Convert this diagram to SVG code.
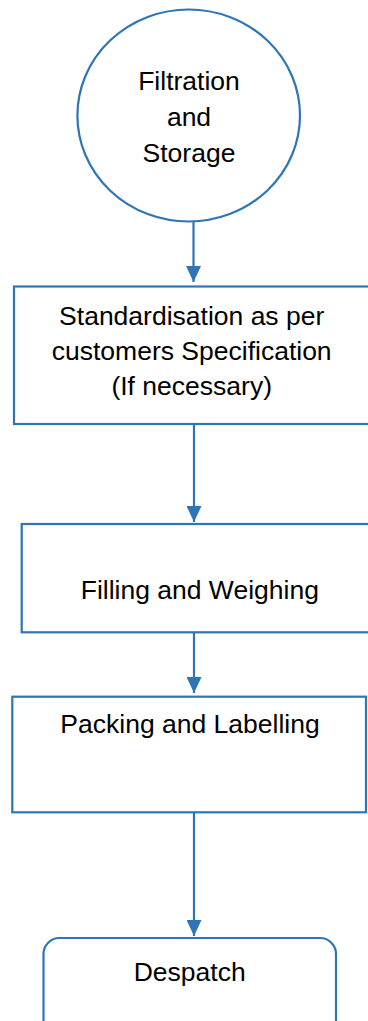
<svg xmlns="http://www.w3.org/2000/svg" width="368" height="1021" viewBox="0 0 368 1021">
<style>
.shape{fill:#fff;stroke:#2E75B6;stroke-width:2.2}
.lbl{font-family:"Liberation Sans",Arial,sans-serif;font-size:26.5px;fill:#000;text-anchor:middle}
.conn{stroke:#2E75B6;stroke-width:2.2;fill:none}
</style>
<defs>
<marker id="ah" markerUnits="userSpaceOnUse" viewBox="0 0 16 15" refX="16" refY="7.5" markerWidth="16" markerHeight="15" orient="auto">
<path d="M0,0 L16,7.5 L0,15 z" fill="#2E75B6"/>
</marker>
</defs>
<rect width="368" height="1021" fill="#fff"/>
<g id="connectors">
<line class="conn" x1="193.5" y1="222" x2="193.5" y2="282" marker-end="url(#ah)"/>
<line class="conn" x1="194" y1="424" x2="194" y2="522" marker-end="url(#ah)"/>
<line class="conn" x1="194" y1="633" x2="194" y2="693" marker-end="url(#ah)"/>
<line class="conn" x1="194" y1="813" x2="194" y2="936" marker-end="url(#ah)"/>
</g>
<g id="filtration">
<ellipse class="shape" cx="188.7" cy="115.5" rx="111.3" ry="106"/>
<text class="lbl" x="189" y="90">Filtration</text>
<text class="lbl" x="189" y="126">and</text>
<text class="lbl" x="189" y="161.5">Storage</text>
</g>
<g id="standardisation">
<rect class="shape" x="14" y="286.5" width="370" height="137.5"/>
<text class="lbl" x="191.7" y="325">Standardisation as per</text>
<text class="lbl" x="191.7" y="360">customers Specification</text>
<text class="lbl" x="191.7" y="394.5">(If necessary)</text>
</g>
<g id="filling">
<rect class="shape" x="21.7" y="524" width="370" height="108.3"/>
<text class="lbl" x="199.8" y="599">Filling and Weighing</text>
</g>
<g id="packing">
<rect class="shape" x="12.3" y="696.7" width="353.7" height="115.6"/>
<text class="lbl" x="190" y="733">Packing and Labelling</text>
</g>
<g id="despatch">
<rect class="shape" x="43.5" y="938" width="292.5" height="110" rx="16" ry="16"/>
<text class="lbl" x="189.7" y="981">Despatch</text>
</g>
</svg>
